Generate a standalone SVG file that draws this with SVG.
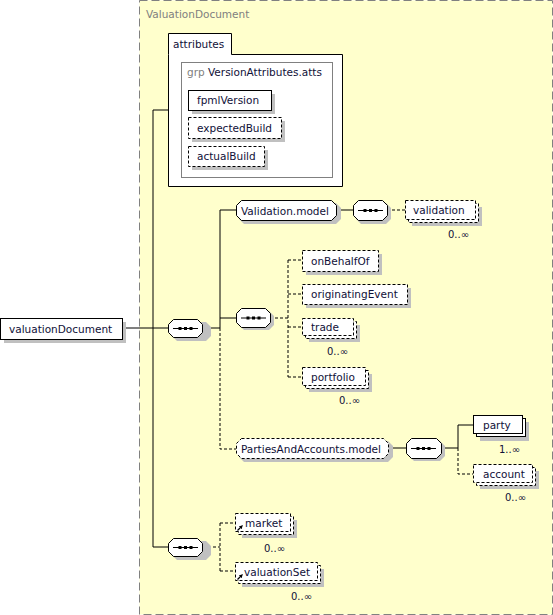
<svg xmlns="http://www.w3.org/2000/svg" width="553" height="615" viewBox="0 0 553 615">
<style>
text{font-family:"DejaVu Sans","Verdana",sans-serif;font-size:10.5px;fill:#101038}
.gray{fill:#808080}
.sh{fill:#c0c0c0;stroke:none}
.box{fill:#fff;stroke:#000;stroke-width:1}
.dbox{fill:#fff;stroke:#000;stroke-width:1;stroke-dasharray:3,2}
.ln{fill:none;stroke:#000;stroke-width:1}
.dl{fill:none;stroke:#000;stroke-width:1;stroke-dasharray:3,2}
.occ{font-size:10px}
</style>
<defs>
<g id="seqsym"><path d="M5,0 H30" stroke="#000" stroke-width="1"/><rect x="10.5" y="-1.5" width="3" height="3" fill="#000"/><rect x="16" y="-1.5" width="3" height="3" fill="#000"/><rect x="21.5" y="-1.5" width="3" height="3" fill="#000"/></g>
<marker id="ah" markerWidth="4" markerHeight="4" refX="2" refY="2" orient="auto" markerUnits="userSpaceOnUse"><path d="M0,0 L4,2 L0,4 Z" fill="#000"/></marker>
</defs>

<rect x="139.5" y="0.5" width="413" height="614" fill="#ffffcc" stroke="#808080" stroke-dasharray="8,4"/>
<text x="146" y="18" class="gray">ValuationDocument</text>

<g id="connectors">
<path class="ln" d="M122,328 H168 M153,110 V547 H168 M153,110 H168 M203,328 H220 M220,210 V328 M220,210 H236 M220,318 H236 M336,210 H353 M388,448 H406 M441,448 H458 M458,425 V448 M458,425 H473"/>
<path class="dl" d="M220,328 V449 H236 M387,210 H405 M270,318 H288 M288,260 V377 M288,260 H302 M288,294 H302 M288,327 H302 M288,377 H302 M458,448 V474 H473 M203,547 H220 M220,523 V571 M220,523 H235 M220,571 H235"/>
</g>

<g id="attributes">
<path d="M168.5,54.5 V33.5 H231.5 V54.5 H342.5 V186.5 H168.5 Z" fill="#fff" stroke="#000"/>
<text x="173" y="48">attributes</text>
<rect x="181.5" y="62.5" width="151" height="115" fill="#fff" stroke="#808080"/>
<text x="187" y="76"><tspan class="gray">grp</tspan> VersionAttributes.atts</text>
</g>
<g id="fpmlVersion"><rect class="sh" x="192" y="94" width="83" height="20"/><rect class="box" x="188.5" y="90.5" width="83" height="20"/><text x="197" y="104">fpmlVersion</text></g>
<g id="expectedBuild"><rect class="sh" x="192" y="121" width="93" height="21"/><rect class="dbox" x="188.5" y="117.5" width="93" height="21"/><text x="197" y="132">expectedBuild</text></g>
<g id="actualBuild"><rect class="sh" x="192" y="150" width="76" height="20"/><rect class="dbox" x="188.5" y="146.5" width="76" height="20"/><text x="197" y="160">actualBuild</text></g>

<g id="valuationDocument"><rect class="sh" x="4" y="322" width="122" height="21"/><rect class="box" x="0.5" y="318.5" width="122" height="21"/><text x="9" y="333">valuationDocument</text></g>

<g id="seq1"><path class="sh" d="M177,322 H206 L211,327 V336 L206,341 H177 L172,336 V327 Z"/><path class="box" d="M173.5,319.5 H197.5 L202.5,324.5 V332.5 L197.5,337.5 H173.5 L168.5,332.5 V324.5 Z"/><use href="#seqsym" x="168" y="328.5"/></g>

<g id="ValidationModel"><path class="sh" d="M244,203 H336 L341,208 V219 L336,224 H244 L239,219 V208 Z"/><path class="box" d="M241.5,200.5 H331.5 L336.5,205.5 V215.5 L331.5,220.5 H241.5 L236.5,215.5 V205.5 Z"/><text x="241" y="215">Validation.model</text></g>

<g id="seq2"><path class="sh" d="M244,311 H269 L274,316 V325 L269,330 H244 L239,325 V316 Z"/><path class="box" d="M241.5,308.5 H265.5 L270.5,313.5 V322.5 L265.5,327.5 H241.5 L236.5,322.5 V313.5 Z"/><use href="#seqsym" x="236" y="318"/></g>

<g id="seq3"><path class="sh" d="M361,203 H386 L391,208 V219 L386,224 H361 L356,219 V208 Z"/><path class="box" d="M358.5,200.5 H382.5 L387.5,205.5 V215.5 L382.5,220.5 H358.5 L353.5,215.5 V205.5 Z"/><use href="#seqsym" x="353" y="210.5"/></g>

<g id="validation"><rect class="sh" x="412" y="207" width="70" height="19"/><rect class="dbox" x="408.5" y="203.5" width="70" height="19"/><rect class="dbox" x="405.5" y="200.5" width="70" height="19"/><text x="413" y="214">validation</text><text class="occ" x="448" y="238">0..∞</text></g>

<g id="onBehalfOf"><rect class="sh" x="306" y="254" width="76" height="21"/><rect class="dbox" x="302.5" y="250.5" width="76" height="21"/><text x="311" y="265">onBehalfOf</text></g>
<g id="originatingEvent"><rect class="sh" x="306" y="288" width="105" height="20"/><rect class="dbox" x="302.5" y="284.5" width="105" height="20"/><text x="311" y="298">originatingEvent</text></g>
<g id="trade"><rect class="sh" x="309" y="325" width="51" height="17"/><rect class="dbox" x="305.5" y="321.5" width="51" height="17"/><rect class="dbox" x="302.5" y="318.5" width="51" height="17"/><text x="311" y="331">trade</text><text class="occ" x="327" y="355">0..∞</text></g>
<g id="portfolio"><rect class="sh" x="309" y="374" width="63" height="18"/><rect class="dbox" x="305.5" y="370.5" width="63" height="18"/><rect class="dbox" x="302.5" y="367.5" width="63" height="18"/><text x="311" y="381">portfolio</text><text class="occ" x="339" y="404">0..∞</text></g>

<g id="PartiesAndAccountsModel"><path class="sh" d="M244,441 H388 L393,446 V457 L388,462 H244 L239,457 V446 Z"/><path class="dbox" d="M241.5,438.5 H383.5 L388.5,443.5 V453.5 L383.5,458.5 H241.5 L236.5,453.5 V443.5 Z"/><text x="241" y="453">PartiesAndAccounts.model</text></g>

<g id="seq4"><path class="sh" d="M414,441 H440 L445,446 V456 L440,461 H414 L409,456 V446 Z"/><path class="box" d="M411.5,438.5 H436.5 L441.5,443.5 V453.5 L436.5,458.5 H411.5 L406.5,453.5 V443.5 Z"/><use href="#seqsym" x="406" y="448.5"/></g>

<g id="party"><rect class="sh" x="480" y="422" width="49" height="19"/><rect class="box" x="476.5" y="418.5" width="49" height="18"/><rect class="box" x="473.5" y="415.5" width="49" height="18"/><text x="483" y="429">party</text><text class="occ" x="499" y="453">1..∞</text></g>
<g id="account"><rect class="sh" x="480" y="471" width="59" height="18"/><rect class="dbox" x="476.5" y="467.5" width="59" height="18"/><rect class="dbox" x="473.5" y="464.5" width="59" height="18"/><text x="483" y="478">account</text><text class="occ" x="505" y="501">0..∞</text></g>

<g id="seq5"><path class="sh" d="M177,541 H206 L211,546 V555 L206,560 H177 L172,555 V546 Z"/><path class="box" d="M173.5,538.5 H197.5 L202.5,543.5 V551.5 L197.5,556.5 H173.5 L168.5,551.5 V543.5 Z"/><use href="#seqsym" x="168" y="547.5"/></g>

<g id="market"><rect class="sh" x="242" y="520" width="55" height="18"/><rect class="dbox" x="238.5" y="516.5" width="55" height="18"/><rect class="dbox" x="235.5" y="513.5" width="55" height="18"/><text x="245" y="527">market</text><path d="M237.5,530.5 L241.5,526.5" stroke="#000" stroke-width="1.2" marker-end="url(#ah)"/><text class="occ" x="264" y="552">0..∞</text></g>
<g id="valuationSet"><rect class="sh" x="242" y="569" width="82" height="18"/><rect class="dbox" x="238.5" y="565.5" width="82" height="18"/><rect class="dbox" x="235.5" y="562.5" width="82" height="18"/><text x="244" y="576">valuationSet</text><path d="M237.5,579.5 L241.5,575.5" stroke="#000" stroke-width="1.2" marker-end="url(#ah)"/><text class="occ" x="291" y="600">0..∞</text></g>
</svg>
